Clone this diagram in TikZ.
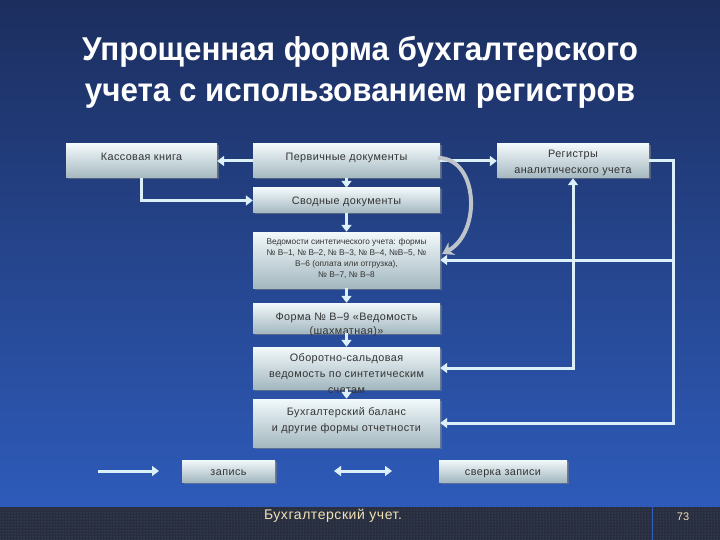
\documentclass[tikz,border=0pt]{standalone}
\usepackage{fontspec}
\setmainfont{Liberation Sans}
\newfontfamily\titlefont[FakeStretch=0.95]{Liberation Sans}
\newfontfamily\smallfont{Liberation Sans}
\newfontfamily\blkfont[LetterSpace=4]{Liberation Sans}
\usepackage{tikz}
\usetikzlibrary{arrows.meta, calc, positioning, shadows, patterns}
\definecolor{bgtop}{RGB}{28,46,94}
\definecolor{bgbot}{RGB}{47,94,192}
\definecolor{blktop}{RGB}{242,249,251}
\definecolor{blkbot}{RGB}{164,184,192}
\definecolor{linkcol}{RGB}{220,240,250}
\definecolor{curvcol}{RGB}{190,196,202}
\definecolor{foot}{RGB}{40,46,62}
\definecolor{footdot}{RGB}{80,96,128}
\definecolor{foottext}{RGB}{240,226,180}
\newcommand{\blktext}[4]{\parbox[c][#1][t]{#2}{\centering\rule{0pt}{#3}#4}}

\begin{document}
\begin{tikzpicture}[x=1pt,y=-1pt,
    blk/.style={inner sep=0pt, top color=blktop, bottom color=blkbot,
      drop shadow={shadow xshift=1.5pt, shadow yshift=-1.5pt, opacity=.55},
      text=black!80, font=\blkfont\fontsize{10.8}{16}\selectfont},
    link/.style={draw=linkcol, line width=3pt, -{Triangle[width=10pt,length=7pt]}},
    both/.style={{Triangle[width=10pt,length=7pt]}-{Triangle[width=10pt,length=7pt]}},
    curv/.style={draw=curvcol, line width=4pt, -{Stealth[width=14pt,length=11pt]}}]
  \useasboundingbox (0,0) rectangle (720,540);
  \fill[top color=bgtop, bottom color=bgbot] (0,0) rectangle (720,540);
  \fill[foot] (0,507) rectangle (720,540);
  \fill[pattern=dots, pattern color=footdot] (0,507) rectangle (720,540);
  \draw[bgbot, line width=1pt] (652,507) -- (652,540);

  \node[text=white, align=center, font=\titlefont\bfseries\fontsize{33}{41}\selectfont]
    (title) at (360,72) {Упрощенная форма бухгалтерского\\учета с использованием регистров};

  \node[blk] (kniga) at (141.5,161) {\blktext{34pt}{151pt}{17pt}{Кассовая книга}};
  \node[blk] (perv) at (346.5,161) {\blktext{34pt}{187pt}{17pt}{Первичные документы}};
  \node[blk] (reg) at (573,161) {\blktext{34pt}{152pt}{14pt}{Регистры\\аналитического учета}};
  \node[blk] (svod) at (346.5,200.5) {\blktext{25pt}{187pt}{16pt}{Сводные документы}};
  \node[blk, font=\smallfont\fontsize{8.3}{11}\selectfont] (ved) at (346.5,260)
    {\blktext{56pt}{187pt}{12pt}{Ведомости синтетического учета: формы\\№ В–1, № В–2, № В–3, № В–4, №В–5, №\\В–6 (оплата или отгрузка),\\№ В–7, № В–8}};
  \node[blk, font=\blkfont\fontsize{10.8}{14}\selectfont] (forma) at (346.5,318)
    {\blktext{30pt}{187pt}{17pt}{Форма № В–9 «Ведомость\\(шахматная)»}};
  \node[blk] (obor) at (346.5,368) {\blktext{42pt}{187pt}{14pt}{Оборотно-сальдовая\\ведомость по синтетическим\\счетам}};
  \node[blk] (bal) at (346.5,423) {\blktext{48pt}{187pt}{16pt}{Бухгалтерский баланс\\и другие формы отчетности}};

  \draw[link] (perv) -- (kniga);
  \draw[link] (kniga.south) |- (svod.west);
  \draw[link] (perv) -- (reg);
  \draw[link] (perv) -- (svod);
  \draw[link] (svod) -- (ved);
  \draw[link] (ved) -- (forma);
  \draw[link] (forma) -- (obor);
  \draw[link] (obor) -- (bal);
  \coordinate (turn) at ($(reg.east)+(24,0)$);
  \draw[link] (reg.east) -- (turn) |- (bal.east);
  \draw[link] (turn |- ved.east) -- (ved.east);
  \draw[link, both] (obor.east) -| (reg.south);
  \draw[curv] ($(perv.east)+(-2,-3)$) .. controls (478,158) and (482,232) .. ($(ved.east)+(2,-6)$);

  \coordinate (a1) at (98,471);
  \coordinate (a2) at (159,471);
  \draw[link] (a1) -- (a2);
  \node[blk] (zapis) at (228.5,471) {\blktext{22pt}{93pt}{15pt}{запись}};
  \coordinate (b1) at (334,471);
  \coordinate (b2) at (392,471);
  \draw[link, both] (b1) -- (b2);
  \node[blk] (sverka) at (503,471) {\blktext{22pt}{128pt}{15pt}{сверка записи}};

  \node[text=foottext, font=\blkfont\fontsize{14}{16}\selectfont] (course) at (333,516) {Бухгалтерский учет.};
  \node[text=foottext, font=\smallfont\fontsize{11}{13}\selectfont] (page) at (683,517) {73};
\end{tikzpicture}
\end{document}
